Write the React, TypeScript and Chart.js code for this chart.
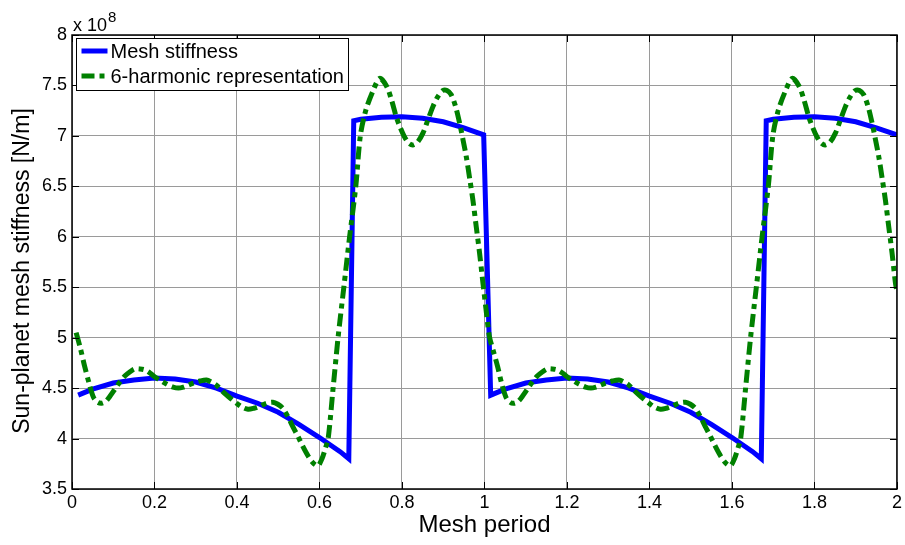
import React, { useEffect, useRef } from "react";
import { Chart, registerables } from "chart.js";

Chart.register(...registerables);

const FONT = '"Liberation Sans", Arial, Helvetica, sans-serif';

// Time-varying sun-planet mesh stiffness over two mesh periods (units of 1e8 N/m)
const meshX = [
  0.015, 0.05, 0.1, 0.15, 0.2, 0.25, 0.3, 0.35, 0.4, 0.45, 0.5, 0.55, 0.6, 0.65, 0.671,
  0.683, 0.7, 0.75, 0.8, 0.85, 0.9, 0.95, 0.998,
  1.015, 1.05, 1.1, 1.15, 1.2, 1.25, 1.3, 1.35, 1.4, 1.45, 1.5, 1.55, 1.6, 1.65, 1.671,
  1.683, 1.7, 1.75, 1.8, 1.85, 1.9, 1.95, 2.0,
];
const meshY = [
  4.43, 4.49, 4.55, 4.58, 4.6, 4.59, 4.56, 4.5, 4.42, 4.35, 4.26, 4.14, 4.01, 3.87, 3.8,
  7.15, 7.165, 7.185, 7.19, 7.175, 7.14, 7.08, 7.01,
  4.43, 4.49, 4.55, 4.58, 4.6, 4.59, 4.56, 4.5, 4.42, 4.35, 4.26, 4.14, 4.01, 3.87, 3.8,
  7.15, 7.165, 7.185, 7.19, 7.175, 7.14, 7.08, 7.01,
];

// Six-harmonic Fourier approximation of the same stiffness
const harmX = [
  0.01, 0.02, 0.031, 0.042, 0.052, 0.062, 0.072, 0.082, 0.092, 0.104, 0.116, 0.128, 0.14,
  0.152, 0.165, 0.177, 0.189, 0.201, 0.213, 0.229, 0.245, 0.258, 0.27, 0.282, 0.294, 0.31,
  0.326, 0.338, 0.35, 0.362, 0.375, 0.387, 0.399, 0.413, 0.427, 0.441, 0.455, 0.471, 0.487,
  0.499, 0.511, 0.523, 0.535, 0.548, 0.56, 0.572, 0.584, 0.596, 0.606, 0.614, 0.621, 0.633,
  0.645, 0.659, 0.673, 0.688, 0.699, 0.712, 0.73, 0.746, 0.763, 0.775, 0.786, 0.796, 0.806,
  0.816, 0.826, 0.838, 0.851, 0.863, 0.875, 0.887, 0.899, 0.909, 0.919, 0.93, 0.94, 0.948,
  0.956, 0.964, 0.972, 0.98, 0.988, 0.996,
  1.004, 1.012, 1.022, 1.032, 1.042, 1.052, 1.062, 1.072, 1.082, 1.092, 1.104, 1.116, 1.128,
  1.14, 1.152, 1.165, 1.177, 1.189, 1.201, 1.213, 1.229, 1.245, 1.258, 1.27, 1.282, 1.294,
  1.31, 1.326, 1.338, 1.35, 1.362, 1.375, 1.387, 1.399, 1.413, 1.427, 1.441, 1.455, 1.471,
  1.487, 1.499, 1.511, 1.523, 1.535, 1.548, 1.56, 1.572, 1.584, 1.596, 1.606, 1.614, 1.621,
  1.633, 1.645, 1.659, 1.673, 1.688, 1.699, 1.712, 1.73, 1.746, 1.763, 1.775, 1.786, 1.796,
  1.806, 1.816, 1.826, 1.838, 1.851, 1.863, 1.875, 1.887, 1.899, 1.909, 1.919, 1.93, 1.94,
  1.948, 1.956, 1.964, 1.972, 1.98, 1.988, 1.996, 2.0,
];
const harmY = [
  5.05, 4.9, 4.71, 4.54, 4.41, 4.36, 4.35, 4.37, 4.42, 4.49, 4.56, 4.62, 4.66,
  4.69, 4.69, 4.68, 4.65, 4.61, 4.58, 4.54, 4.51, 4.5, 4.51, 4.53, 4.55, 4.57,
  4.58, 4.56, 4.53, 4.48, 4.43, 4.39, 4.35, 4.31, 4.29, 4.3, 4.32, 4.35, 4.36,
  4.34, 4.3, 4.22, 4.12, 4.02, 3.92, 3.83, 3.76, 3.73, 3.8, 3.9, 4.0, 4.5,
  5.0, 5.5, 6.0, 6.5, 7.0, 7.25, 7.45, 7.57, 7.49, 7.35, 7.19, 7.08, 6.99,
  6.93, 6.91, 6.94, 7.03, 7.16, 7.29, 7.39, 7.45, 7.45, 7.41, 7.29, 7.12, 6.96,
  6.79, 6.58, 6.36, 6.1, 5.84, 5.55,
  5.27, 5.01, 4.86, 4.71, 4.54, 4.41, 4.36, 4.35, 4.37, 4.42, 4.49, 4.56, 4.62,
  4.66, 4.69, 4.69, 4.68, 4.65, 4.61, 4.58, 4.54, 4.51, 4.5, 4.51, 4.53, 4.55,
  4.57, 4.58, 4.56, 4.53, 4.48, 4.43, 4.39, 4.35, 4.31, 4.29, 4.3, 4.32, 4.35,
  4.36, 4.34, 4.3, 4.22, 4.12, 4.02, 3.92, 3.83, 3.76, 3.73, 3.8, 3.9, 4.0,
  4.5, 5.0, 5.5, 6.0, 6.5, 7.0, 7.25, 7.45, 7.57, 7.49, 7.35, 7.19, 7.08,
  6.99, 6.93, 6.91, 6.94, 7.03, 7.16, 7.29, 7.39, 7.45, 7.45, 7.41, 7.29, 7.12,
  6.96, 6.79, 6.58, 6.36, 6.1, 5.84, 5.55, 5.45,
];

const seriesLabels = ["Mesh stiffness", "6-harmonic representation"];
const seriesColors = ["#0000ff", "#008000"];
const harmDash = [13, 5, 5, 5];

const xTickValues = [0, 0.2, 0.4, 0.6, 0.8, 1, 1.2, 1.4, 1.6, 1.8, 2];
const yTickValues = [3.5, 4, 4.5, 5, 5.5, 6, 6.5, 7, 7.5, 8];
const yExponent = "8";
const yTitle = "Sun-planet mesh stiffness [N/m]";

const fmt = (v: number) => String(Math.round(v * 10) / 10);

// Box outline, inward tick marks, legend box, y title and the axis multiplier
const framePlugin = {
  id: "frame",
  afterDatasetsDraw(chart: any) {
    const { ctx, chartArea: a, scales } = chart;
    ctx.save();
    ctx.strokeStyle = "#000";
    ctx.lineWidth = 1;
    const tl = 7;
    ctx.beginPath();
    for (const v of xTickValues) {
      const px = Math.round(scales.x.getPixelForValue(v)) + 0.5;
      ctx.moveTo(px, a.bottom);
      ctx.lineTo(px, a.bottom - tl);
      ctx.moveTo(px, a.top);
      ctx.lineTo(px, a.top + tl);
    }
    for (const v of yTickValues) {
      const py = Math.round(scales.y.getPixelForValue(v)) + 0.5;
      ctx.moveTo(a.left, py);
      ctx.lineTo(a.left + tl, py);
      ctx.moveTo(a.right, py);
      ctx.lineTo(a.right - tl, py);
    }
    ctx.stroke();
    ctx.lineWidth = 1.5;
    ctx.strokeRect(a.left, a.top, a.right - a.left, a.bottom - a.top);
    ctx.restore();
  },
  afterDraw(chart: any) {
    const { ctx, chartArea: a } = chart;
    ctx.save();
    // legend
    const bx = a.left + 4.5;
    const by = a.top + 3.5;
    const bw = 272;
    const bh = 52;
    ctx.fillStyle = "#fff";
    ctx.fillRect(bx, by, bw, bh);
    ctx.strokeStyle = "#000";
    ctx.lineWidth = 1;
    ctx.strokeRect(bx, by, bw, bh);
    const rows = [by + 12.5, by + 37.5];
    for (let i = 0; i < 2; i++) {
      ctx.beginPath();
      ctx.strokeStyle = seriesColors[i];
      ctx.lineWidth = 5;
      ctx.setLineDash(i === 1 ? harmDash : []);
      ctx.moveTo(bx + 5, rows[i]);
      ctx.lineTo(bx + 31, rows[i]);
      ctx.stroke();
      ctx.setLineDash([]);
      ctx.fillStyle = "#000";
      ctx.font = `20px ${FONT}`;
      ctx.textBaseline = "middle";
      ctx.textAlign = "left";
      ctx.fillText(seriesLabels[i], bx + 34, rows[i] + 1);
    }
    // y-axis title
    ctx.save();
    ctx.translate(23, (a.top + a.bottom) / 2 + 9);
    ctx.rotate(-Math.PI / 2);
    ctx.font = `23px ${FONT}`;
    ctx.textAlign = "center";
    ctx.textBaseline = "middle";
    ctx.fillStyle = "#000";
    ctx.fillText(yTitle, 0, 0);
    ctx.restore();
    // axis multiplier
    ctx.fillStyle = "#000";
    ctx.textAlign = "left";
    ctx.textBaseline = "alphabetic";
    ctx.font = `18px ${FONT}`;
    ctx.fillText("x 10", a.left + 1, a.top - 4);
    const w = ctx.measureText("x 10").width;
    ctx.font = `15px ${FONT}`;
    ctx.fillText(yExponent, a.left + 2 + w, a.top - 13);
    ctx.restore();
  },
};

export default function App() {
  const ref = useRef<HTMLCanvasElement | null>(null);

  useEffect(() => {
    const canvas = ref.current;
    if (!canvas) return;
    const meshData = meshX.map((x, i) => ({ x, y: meshY[i] }));
    const harmData = harmX.map((x, i) => ({ x, y: harmY[i] }));

    const chart = new Chart(canvas, {
      type: "line",
      data: {
        datasets: [
          {
            label: seriesLabels[0],
            data: meshData,
            borderColor: seriesColors[0],
            backgroundColor: seriesColors[0],
            borderWidth: 5,
            pointRadius: 0,
            tension: 0,
            order: 1,
          },
          {
            label: seriesLabels[1],
            data: harmData,
            borderColor: seriesColors[1],
            backgroundColor: seriesColors[1],
            borderWidth: 5,
            borderDash: harmDash,
            pointRadius: 0,
            tension: 0.3,
            order: 0,
          },
        ],
      },
      options: {
        responsive: false,
        animation: false,
        devicePixelRatio: 1,
        layout: { padding: { top: 35, right: 7, left: 0, bottom: 0 } },
        plugins: {
          legend: { display: false },
          tooltip: { enabled: false },
          title: { display: false },
        },
        scales: {
          x: {
            type: "linear",
            min: 0,
            max: 2,
            afterBuildTicks: (s: any) => {
              s.ticks = xTickValues.map((v) => ({ value: v }));
            },
            afterFit: (s: any) => {
              s.height = 56;
            },
            ticks: {
              autoSkip: false,
              maxRotation: 0,
              color: "#000",
              padding: 3,
              font: { family: FONT, size: 18 },
              callback: (v: any) => fmt(Number(v)),
            },
            grid: { color: "#9a9a9a", lineWidth: 1, drawTicks: false },
            border: { display: false },
            title: {
              display: true,
              text: "Mesh period",
              color: "#000",
              font: { family: FONT, size: 24 },
              padding: { top: 0, bottom: 5 },
            },
          },
          y: {
            type: "linear",
            min: 3.5,
            max: 8,
            afterBuildTicks: (s: any) => {
              s.ticks = yTickValues.map((v) => ({ value: v }));
            },
            afterFit: (s: any) => {
              s.width = 72;
            },
            ticks: {
              autoSkip: false,
              color: "#000",
              padding: 5,
              font: { family: FONT, size: 18 },
              callback: (v: any) => fmt(Number(v)),
            },
            grid: { color: "#9a9a9a", lineWidth: 1, drawTicks: false },
            border: { display: false },
            title: { display: false },
          },
        },
      },
      plugins: [framePlugin],
    });

    return () => chart.destroy();
  }, []);

  return (
    <div style={{ position: "fixed", left: 0, top: 0, width: 905, height: 545, background: "#fff" }}>
      <canvas ref={ref} width={905} height={545} style={{ display: "block" }} />
    </div>
  );
}
